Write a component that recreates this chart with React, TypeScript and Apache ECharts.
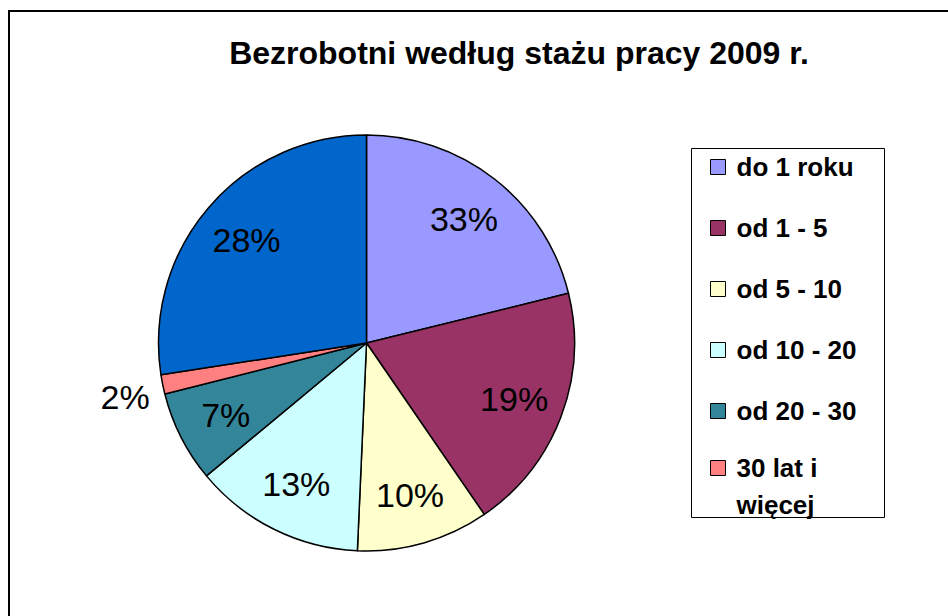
import React, { useEffect, useRef } from "react";
import * as echarts from "echarts";

const TITLE = "Bezrobotni według stażu pracy 2009 r.";
const categories = [
  "do 1 roku",
  "od 1 - 5",
  "od 5 - 10",
  "od 10 - 20",
  "od 20 - 30",
  "30 lat i więcej",
  "bez stażu",
];
const values = [21.2, 19.3, 10.3, 13.3, 7.1, 1.5, 27.5];
// labels as printed on the chart
const labelTexts = ["33%", "19%", "10%", "13%", "7%", "2%", "28%"];
const colors = ["#9999FF", "#993366", "#FFFFCC", "#CCFFFF", "#33859A", "#FF8080", "#0066CC"];
const legendNamesA = categories.slice(0, 5);
const legendNamesB = categories.slice(5, 6);

const FONT = "'Liberation Sans', Arial, Helvetica, sans-serif";

export default function App() {
  const ref = useRef<HTMLDivElement>(null);
  useEffect(() => {
    if (!ref.current) return;
    const chart = echarts.init(ref.current, null, { renderer: "svg" });
    const R = 208;
    const center = [366.5, 343];
    const mainData = categories.map((name, i) => ({
      name,
      value: values[i],
      itemStyle: { color: colors[i] },
      label: { show: values[i] < 3 },
      labelLine: { show: false },
    }));
    const overlayData = categories.map((name, i) => ({
      name,
      value: values[i],
      label: { show: values[i] >= 3 },
    }));
    const legendText = {
      fontFamily: FONT,
      fontSize: 26,
      fontWeight: "bold",
      color: "#000",
      width: 125,
      overflow: "break",
      padding: [0, 0, 0, 6],
    };
    const legendCommon = {
      orient: "vertical",
      left: 710,
      itemWidth: 15,
      itemHeight: 15,
      padding: 0,
      icon: "rect",
      itemStyle: { borderColor: "#000", borderWidth: 1 },
      selectedMode: false,
    };
    chart.setOption({
      animation: false,
      backgroundColor: "#ffffff",
      title: {
        text: TITLE,
        left: 514,
        top: 32,
        textAlign: "center",
        textStyle: { fontFamily: FONT, fontSize: 32, fontWeight: "bold", color: "#000" },
      },
      graphic: [
        {
          type: "rect",
          shape: { x: 9, y: 11, width: 1000, height: 1000 },
          style: { fill: "none", stroke: "#000", lineWidth: 2 },
          silent: true,
        },
        {
          type: "rect",
          shape: { x: 691.5, y: 148.5, width: 193, height: 369 },
          style: { fill: "#fff", stroke: "#000", lineWidth: 1 },
          silent: true,
          z: -1,
        },
      ],
      legend: [
        {
          ...legendCommon,
          top: 149.5,
          data: legendNamesA,
          itemGap: 26,
          textStyle: { ...legendText, lineHeight: 35 },
        },
        {
          ...legendCommon,
          top: 412.5,
          data: legendNamesB,
          // leading empty line keeps the marker beside the first text line
          formatter: (name: string) => "\n" + name,
          textStyle: { ...legendText, lineHeight: 37 },
        },
      ],
      series: [
        {
          type: "pie",
          center,
          radius: [0, R],
          startAngle: 90,
          clockwise: true,
          silent: true,
          data: mainData,
          itemStyle: { borderColor: "#000", borderWidth: 1.5 },
          label: {
            position: "outside",
            formatter: (p: any) => labelTexts[p.dataIndex],
            fontFamily: FONT,
            fontSize: 34,
            color: "#000",
            distanceToLabelLine: 5,
          },
          labelLine: { show: false, length: 4, length2: 4 },
          labelLayout: () => ({ dy: 12 }),
        },
        {
          type: "pie",
          center,
          radius: [0, R * 1.49],
          startAngle: 90,
          clockwise: true,
          silent: true,
          data: overlayData,
          itemStyle: { color: "rgba(0,0,0,0)", borderWidth: 0 },
          label: {
            position: "inside",
            formatter: (p: any) => labelTexts[p.dataIndex],
            fontFamily: FONT,
            fontSize: 34,
            color: "#000",
          },
          labelLine: { show: false },
        },
      ],
    });
    return () => chart.dispose();
  }, []);
  return (
    <div
      ref={ref}
      style={{ position: "fixed", left: 0, top: 0, width: 948, height: 616 }}
    />
  );
}
